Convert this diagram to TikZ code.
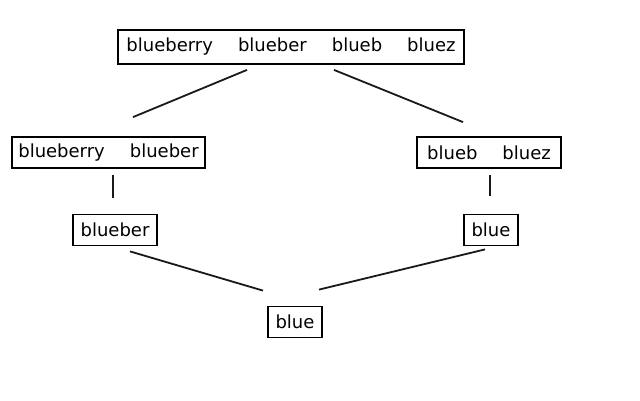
\documentclass[tikz,border=0pt]{standalone}
\usepackage{fontspec}
\setmainfont{DejaVu Sans}
\usetikzlibrary{calc}
\newcommand{\wordgap}{\hspace{25pt}}
\tikzset{
	setbox/.style={draw, line width=1.8pt, inner sep=0pt, font=\fontsize{18}{20}\selectfont, minimum height=31pt},
	link/.style={line width=1.8pt, draw=black!90}
}

\begin{document}
\begin{tikzpicture}[x=1pt,y=-1pt]
	\useasboundingbox (0,0) rectangle (640,400);
	\node [setbox, minimum width=346pt, minimum height=34pt] (all) at (291,47) {blueberry\wordgap blueber\wordgap blueb\wordgap bluez};
	\node [setbox, minimum width=193pt] (lmid) at (108.5,152.5) {blueberry\wordgap blueber};
	\node [setbox, minimum width=144pt] (rmid) at (489,152.5) {blueb\wordgap bluez};
	\node [setbox, minimum width=84pt] (llow) at (115,230) {blueber};
	\node [setbox, minimum width=54pt] (rlow) at (491,230) {blue};
	\node [setbox, minimum width=54pt] (bot) at (295,322) {blue};

	\draw [link] ($(all.south)+(-44,5)$) -- ($(lmid.north)+(24.5,-19)$);
	\draw [link] ($(all.south)+(43,5)$) -- ($(rmid.north)+(-26,-14)$);
	\draw [link] ($(lmid.south)+(4.5,6)$) -- ($(llow.north)+(-2,-16)$);
	\draw [link] ($(rmid.south)+(1,6)$) -- ($(rlow.north)+(-1,-18)$);
	\draw [link] ($(llow.south)+(15,5)$) -- ($(bot.north)+(-32,-15)$);
	\draw [link] ($(rlow.south)+(-6,3)$) -- ($(bot.north)+(24,-16)$);
\end{tikzpicture}
\end{document}
